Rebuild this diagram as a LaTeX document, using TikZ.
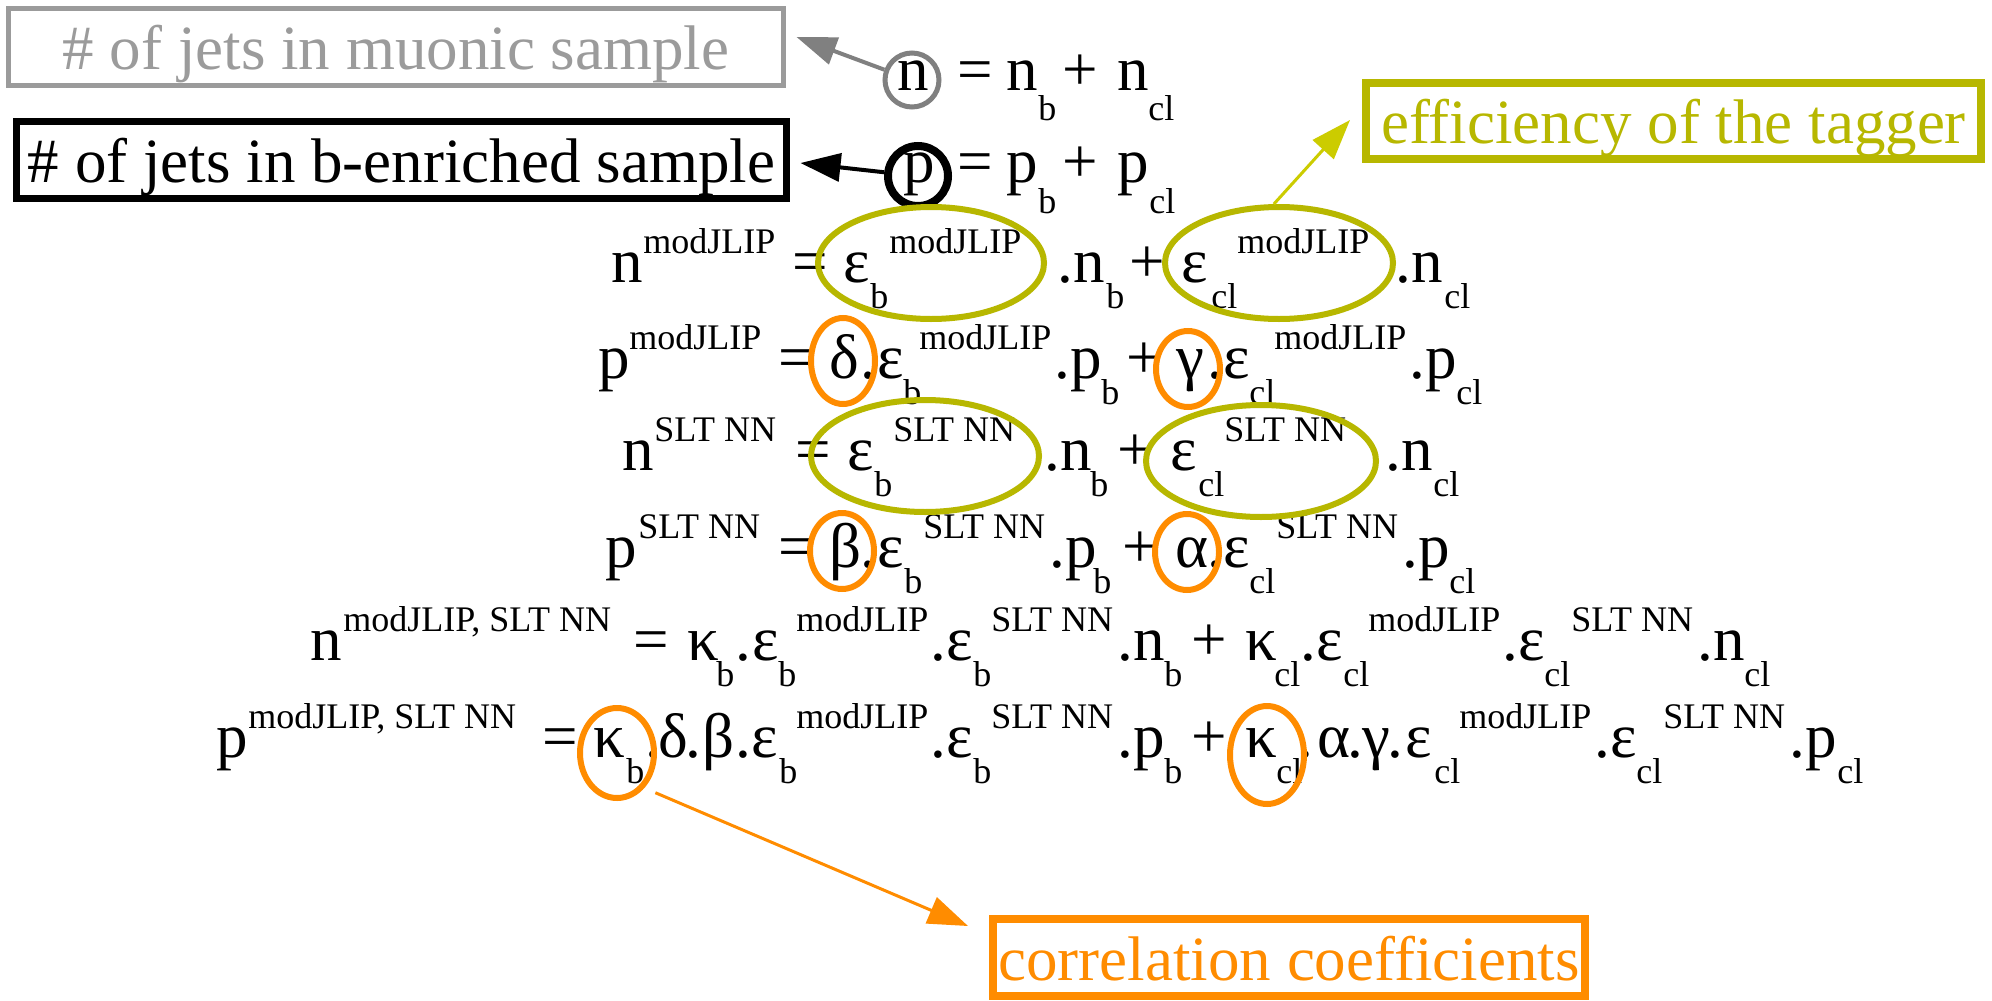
\documentclass[tikz,border=0pt]{standalone}
\usepackage{fontspec}
\setmainfont{Liberation Serif}
\usetikzlibrary{shapes.geometric,arrows.meta}

\definecolor{boxgray}{RGB}{155,155,155}
\definecolor{arrgray}{RGB}{128,128,128}
\definecolor{olivebox}{RGB}{183,183,0}
\definecolor{olivearr}{RGB}{204,204,0}
\definecolor{corange}{RGB}{255,140,0}

% one drawing unit = 0.5pt; pieces of a formula are placed at fixed offsets
\newdimen\pxu \pxu=0.5pt
\newcommand\At[2]{\rlap{\hspace*{#1\pxu}#2}}
\newcommand\scr{\fontsize{18}{20}\selectfont}
\newcommand\Lo[3][26]{\At{#2}{\raisebox{-#1\pxu}{\scr #3}}}
\newcommand\Hi[2]{\At{#1}{\raisebox{29\pxu}{\scr #2}}}

\tikzset{
  eq/.style={anchor=base west, inner sep=0pt, font=\fontsize{31.5}{36}\selectfont},
  lbl/.style={draw, rectangle, inner sep=0pt, text height=24pt, text depth=1.5pt,
              font=\fontsize{31.5}{36}\selectfont},
  ring/.style={ellipse, draw, inner sep=0pt},
  oliv/.style={ring, draw=olivebox, line width=3pt},
  oran/.style={ring, draw=corange, line width=3pt},
  tipA/.style={-{Triangle[length=20pt,width=14pt]}},
}

\begin{document}
\begin{tikzpicture}[x=0.5pt, y=-0.5pt]
\useasboundingbox (0,0) rectangle (1992,1001);
\fill[white] (0,0) rectangle (1992,1001);

% label boxes
\node[lbl, draw=boxgray, text=boxgray, line width=2.5pt, minimum width=387.5pt, minimum height=38.5pt]
  (gbox) at (396,47) {\# of jets in muonic sample};
\node[lbl, draw=black, line width=3.5pt, minimum width=385pt, minimum height=38.5pt]
  (bbox) at (401.5,160) {\# of jets in b-enriched sample};
\node[lbl, draw=olivebox, text=olivebox, line width=4pt, minimum width=307.5pt, minimum height=38pt]
  (obox) at (1673.5,121) {efficiency of the tagger};
\node[lbl, draw=corange, text=corange, line width=4pt, minimum width=296pt, minimum height=38.5pt]
  (cbox) at (1289,957.5) {correlation coefficients};

% equations
\node[eq] (r1) at (0,90) {\At{896}{n}\At{956}{=}\At{1005}{n}\Lo[31]{1037}{b}\At{1061}{+}\At{1116}{n}\Lo[31]{1147}{cl}};
\node[eq] (r2) at (0,182) {\At{902}{p}\At{956}{=}\At{1005}{p}\Lo[31]{1037}{b}\At{1061}{+}\At{1116}{p}\Lo[31]{1148}{cl}};
\node[eq] (r3) at (0,282) {\At{610}{n}\Hi{642}{modJLIP}\At{791}{=}\At{842}{ε}\Lo{869}{b}\Hi{888}{modJLIP}\At{1056}{.n}\Lo{1105}{b}\At{1128}{+}\At{1180}{ε}\Lo{1210}{cl}\Hi{1236}{modJLIP}\At{1394}{.n}\Lo{1443}{cl}};
\node[eq] (r4) at (0,378) {\At{597}{p}\Hi{628}{modJLIP}\At{777}{=}\At{828}{δ}\At{859}{.}\At{876}{ε}\Lo{902}{b}\Hi{918}{modJLIP}\At{1053}{.p}\Lo{1100}{b}\At{1125}{+}\At{1175}{γ}\At{1206}{.}\At{1222}{ε}\Lo{1248}{cl}\Hi{1273}{modJLIP}\At{1408}{.p}\Lo{1455}{cl}};
\node[eq] (r5) at (0,470) {\At{621}{n}\Hi{653}{SLT NN}\At{794}{=}\At{846}{ε}\Lo{873}{b}\Hi{892}{SLT NN}\At{1043}{.n}\Lo{1089}{b}\At{1116}{+}\At{1169}{ε}\Lo{1197}{cl}\Hi{1223}{SLT NN}\At{1384}{.n}\Lo{1432}{cl}};
\node[eq] (r6) at (0,567) {\At{604}{p}\Hi{637}{SLT NN}\At{777}{=}\At{828}{β}\At{859}{.}\At{876}{ε}\Lo{903}{b}\Hi{922}{SLT NN}\At{1048}{.p}\Lo{1092}{b}\At{1121}{+}\At{1174}{α}\At{1206}{.}\At{1222}{ε}\Lo{1248}{cl}\Hi{1275}{SLT NN}\At{1401}{.p}\Lo{1448}{cl}};
\node[eq] (r7) at (0,660) {\At{309}{n}\Hi{342}{modJLIP, SLT NN}\At{632}{=}\At{686}{κ}\Lo{715}{b}\At{734}{.}\At{751}{ε}\Lo{777}{b}\Hi{795}{modJLIP}\At{929}{.ε}\Lo{972}{b}\Hi{990}{SLT NN}\At{1116}{.n}\Lo{1163}{b}\At{1190}{+}\At{1244}{κ}\Lo{1273}{cl}\At{1299}{.ε}\Lo{1342}{cl}\Hi{1367}{modJLIP}\At{1501}{.ε}\Lo{1543}{cl}\Hi{1570}{SLT NN}\At{1696}{.n}\Lo{1743}{cl}};
\node[eq] (r8) at (0,757) {\At{215}{p}\Hi{247}{modJLIP, SLT NN}\At{541}{=}\At{592}{κ}\Lo{625}{b}\At{644}{.}\At{657}{δ}\At{684}{.}\At{701}{β}\At{734}{.}\At{750}{ε}\Lo{778}{b}\Hi{795}{modJLIP}\At{929}{.ε}\Lo{972}{b}\Hi{990}{SLT NN}\At{1116}{.p}\Lo{1163}{b}\At{1190}{+}\At{1244}{κ}\Lo{1275}{cl}\At{1296}{.}\At{1316}{α}\At{1346}{.}\At{1361}{γ}\At{1386}{.}\At{1404}{ε}\Lo{1433}{cl}\Hi{1458}{modJLIP}\At{1593}{.ε}\Lo{1635}{cl}\Hi{1662}{SLT NN}\At{1788}{.p}\Lo{1836}{cl}};

% rings around the quantities
\node[ring, draw=arrgray, line width=2.5pt, minimum size=27pt] (nc) at (912,80) {};
\node[ring, draw=black, line width=4pt, minimum size=30pt] (pc) at (918,176) {};

\node[oliv, minimum width=113pt, minimum height=56pt] (e1) at (931,263) {};
\node[oliv, minimum width=114pt, minimum height=56pt] (e2) at (1279,263) {};
\node[oliv, minimum width=114pt, minimum height=56pt] (e3) at (925,456) {};
\node[oliv, minimum width=115pt, minimum height=56pt] (e4) at (1261,461) {};

\node[oran, minimum width=32pt, minimum height=43pt] (cdelta) at (843,361) {};
\node[oran, minimum width=32pt, minimum height=38pt] (cgamma) at (1188,369) {};
\node[oran, minimum width=32pt, minimum height=38pt] (cbeta) at (842,551) {};
\node[oran, minimum width=32pt, minimum height=38pt] (calpha) at (1187,552) {};
\node[oran, minimum width=37pt, minimum height=45pt] (kb) at (617,753) {};
\node[oran, minimum width=37pt, minimum height=49pt] (kcl) at (1267,755) {};

% pointers to the labels
\draw[tipA, draw=arrgray, fill=arrgray, line width=2pt] (nc) -- ([shift={(10.5,-10)}]gbox.east);
\draw[tipA, draw=black, fill=black, line width=2pt] (pc) -- ([shift={(10.5,3)}]bbox.east);
\draw[tipA, draw=olivearr, fill=olivearr, line width=1.5pt] (e2.95) -- ([shift={(-12,-1)}]obox.west);
\draw[tipA, draw=corange, fill=corange, line width=1.5pt, shorten <=6pt] (kb.-52) -- ([shift={(-21,11)}]cbox.north west);
\end{tikzpicture}
\end{document}
